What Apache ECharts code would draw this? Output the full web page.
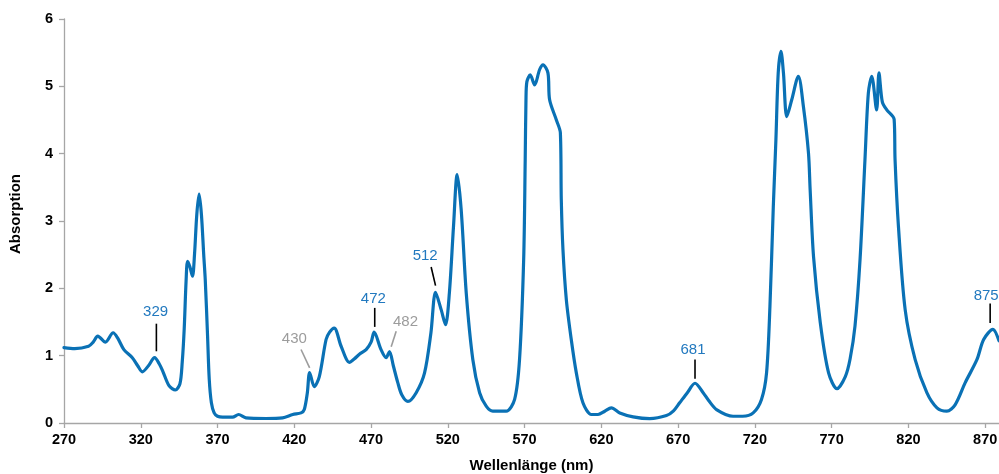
<!DOCTYPE html>
<html>
<head>
<meta charset="utf-8">
<script src="https://cdn.jsdelivr.net/npm/echarts@6/dist/echarts.min.js"></script>
<style>
  html, body { margin: 0; padding: 0; background: #fff; }
  #chart { width: 999px; height: 474px; }
</style>
</head>
<body>
<div id="chart"></div>
<script>
// Absorption spectrum, wavelength in nm
const wavelengths = [
  270, 277, 286, 289, 292, 297, 302, 305, 309, 314.5, 318, 321, 325, 329, 332, 334.5,
  338.5, 342.5, 345.5, 347, 348.3, 349.5, 350.5, 352, 353.7, 355, 356.5, 358, 359.5, 361,
  362, 363.5, 364.6, 366, 367.8, 370, 373.3, 379.8, 383.7, 388.5, 401.5, 412.4, 419, 424.4,
  426.5, 428.5, 430, 433, 436.3, 440.7, 443, 446, 450.5, 455.9, 459, 462.4, 466.8, 470,
  472, 476.5, 479.8, 482, 484.5, 487.4, 490, 494, 499.4, 504.8, 509, 512, 515.7, 518.5,
  521, 523.7, 526.1, 528.7, 532, 536.3, 540.7, 545, 549.3, 558, 563.5, 566.7, 569.4, 570.4,
  570.9, 571.5, 573.7, 576.5, 579.8, 582, 585.2, 586.3, 590.7, 593.3, 593.9, 595, 597.2,
  600.4, 603.7, 608, 613.5, 617.8, 622.2, 626.5, 632, 640.7, 651.5, 662.4, 667, 671, 676,
  681, 686.3, 690, 695, 705.8, 712, 718.9, 724.3, 727.6, 729.8, 732, 733.7, 735.2, 737,
  738.6, 740.8, 744, 748.3, 751.6, 754.9, 756, 758.2, 762.6, 768, 773.5, 778.9, 782, 785.2,
  788.5, 791.7, 793.9, 796.1, 799.3, 800.8, 803, 805.9, 810.7, 811.3, 813.5, 817.9, 824.4,
  832, 838.6, 845, 850.4, 857, 864.6, 869, 875, 879
];
const absorbance = [
  1.12, 1.105, 1.14, 1.20, 1.29, 1.20, 1.34, 1.26, 1.09, 0.97, 0.85, 0.76, 0.85, 0.97, 0.88, 0.76,
  0.55, 0.49, 0.58, 0.90, 1.40, 2.10, 2.40, 2.32, 2.18, 2.50, 3.10, 3.40, 3.10, 2.50,
  2.13, 1.30, 0.65, 0.30, 0.15, 0.10, 0.086, 0.086, 0.126, 0.077, 0.067, 0.077, 0.126, 0.15,
  0.20, 0.45, 0.75, 0.54, 0.69, 1.24, 1.35, 1.41, 1.14, 0.90, 0.95, 1.02, 1.09, 1.20,
  1.35, 1.09, 0.97, 1.06, 0.85, 0.60, 0.42, 0.32, 0.45, 0.74, 1.34, 1.94, 1.68, 1.46,
  1.93, 2.92, 3.69, 3.17, 1.93, 0.94, 0.45, 0.25, 0.175, 0.175, 0.35, 0.94, 2.43, 3.91,
  4.80, 5.07, 5.17, 5.02, 5.25, 5.32, 5.20, 4.80, 4.50, 4.31, 3.32, 2.57, 1.83,
  1.24, 0.745, 0.30, 0.126, 0.126, 0.175, 0.225, 0.15, 0.092, 0.065, 0.11, 0.18, 0.30, 0.45,
  0.59, 0.45, 0.33, 0.20, 0.10, 0.10, 0.15, 0.35, 0.745, 1.73, 3.22, 4.21, 5.20, 5.52,
  5.20, 4.55, 4.80, 5.15, 4.70, 4.01, 3.46, 2.47, 1.49, 0.745, 0.51, 0.69, 0.95, 1.44,
  2.43, 3.91, 4.90, 5.15, 4.65, 5.20, 4.77, 4.65, 4.51, 3.91, 2.92, 1.68, 0.94,
  0.45, 0.225, 0.175, 0.27, 0.60, 0.94, 1.24, 1.39, 1.22
];
const xTicks = [270, 320, 370, 420, 470, 520, 570, 620, 670, 720, 770, 820, 870];
const yTicks = [0, 1, 2, 3, 4, 5, 6];

// Labelled band maxima
const peakNm = [329, 430, 472, 482, 512, 681, 875];
const peakText = ['329', '430', '472', '482', '512', '681', '875'];

// Leader placement (px, relative to the band maximum) and tone
const peakLayout = [
  { line: [1.8, -6.4, 1.8, -34], label: [1, -45.5], tone: 'main' },
  { line: [0, -4.6, -8.6, -23], label: [-15.3, -33.6], tone: 'muted' },
  { line: [0.6, -5.2, 0.6, -24.2], label: [-0.8, -33.2], tone: 'main' },
  { line: [1.7, -4.8, 6.7, -20.4], label: [16, -29.8], tone: 'muted' },
  { line: [0, -6.7, -4.4, -25.4], label: [-10.4, -37], tone: 'main' },
  { line: [0, -4.4, 0, -23.7], label: [-2, -33.7], tone: 'main' },
  { line: [-2.7, -6.5, -2.7, -25.8], label: [-6.7, -34], tone: 'main' }
];
const tones = {
  main: { text: '#2279bf', line: '#000000' },
  muted: { text: '#9c9c9c', line: '#9c9c9c' }
};

const LINE_BLUE = '#0a71b5';
const AXIS_GREY = '#a6a6a6';
const FONT = '"Liberation Sans", Arial, sans-serif';

const points = wavelengths.map((w, i) => [w, absorbance[i]]);

const chart = echarts.init(document.getElementById('chart'), null, { renderer: 'canvas' });

chart.setOption({
  animation: false,
  backgroundColor: '#ffffff',
  grid: { left: 64, right: 0, top: 19, bottom: 51, containLabel: false, outerBoundsMode: 'none' },
  xAxis: {
    type: 'value',
    min: 270,
    max: 879,
    name: 'Wellenlänge (nm)',
    nameLocation: 'middle',
    nameGap: 35,
    nameTextStyle: { fontFamily: FONT, fontWeight: 'bold', fontSize: 15, color: '#000' },
    axisLine: { show: true, lineStyle: { color: AXIS_GREY, width: 1.3 } },
    axisTick: { show: true, length: 5, lineStyle: { color: AXIS_GREY, width: 1.3 }, customValues: xTicks },
    axisLabel: {
      fontFamily: FONT, fontWeight: 'bold', fontSize: 14.5, color: '#000', margin: 9,
      customValues: xTicks
    },
    splitLine: { show: false }
  },
  yAxis: {
    type: 'value',
    min: 0,
    max: 6,
    interval: 1,
    name: 'Absorption',
    nameLocation: 'middle',
    nameGap: 41,
    nameTextStyle: {
      fontFamily: FONT, fontWeight: 'bold', fontSize: 15, color: '#000',
      padding: [0, 0, 0, 14]
    },
    axisLine: { show: true, lineStyle: { color: AXIS_GREY, width: 1.3 } },
    axisTick: { show: true, length: 5, lineStyle: { color: AXIS_GREY, width: 1.3 } },
    axisLabel: {
      fontFamily: FONT, fontWeight: 'bold', fontSize: 14.5, color: '#000', margin: 11,
      customValues: yTicks
    },
    splitLine: { show: false }
  },
  series: [{
    type: 'line',
    data: points,
    showSymbol: false,
    smooth: 0.3,
    clip: true,
    lineStyle: { color: LINE_BLUE, width: 3.2, join: 'round', cap: 'round' },
    itemStyle: { color: LINE_BLUE }
  }]
});

// Leader lines and wavelength labels, anchored to the curve maxima
const elements = [];
peakNm.forEach((nm, i) => {
  const idx = wavelengths.indexOf(nm);
  const [px, py] = chart.convertToPixel({ seriesIndex: 0 }, [nm, absorbance[idx]]);
  const lay = peakLayout[i];
  const tone = tones[lay.tone];
  elements.push({
    type: 'line',
    silent: true,
    shape: { x1: px + lay.line[0], y1: py + lay.line[1], x2: px + lay.line[2], y2: py + lay.line[3] },
    style: { stroke: tone.line, lineWidth: 1.6 }
  });
  elements.push({
    type: 'text',
    silent: true,
    x: px + lay.label[0],
    y: py + lay.label[1],
    style: {
      text: peakText[i],
      fill: tone.text,
      font: '15px ' + FONT,
      align: 'center',
      verticalAlign: 'middle'
    }
  });
});
chart.setOption({ graphic: { elements } });
</script>
</body>
</html>
